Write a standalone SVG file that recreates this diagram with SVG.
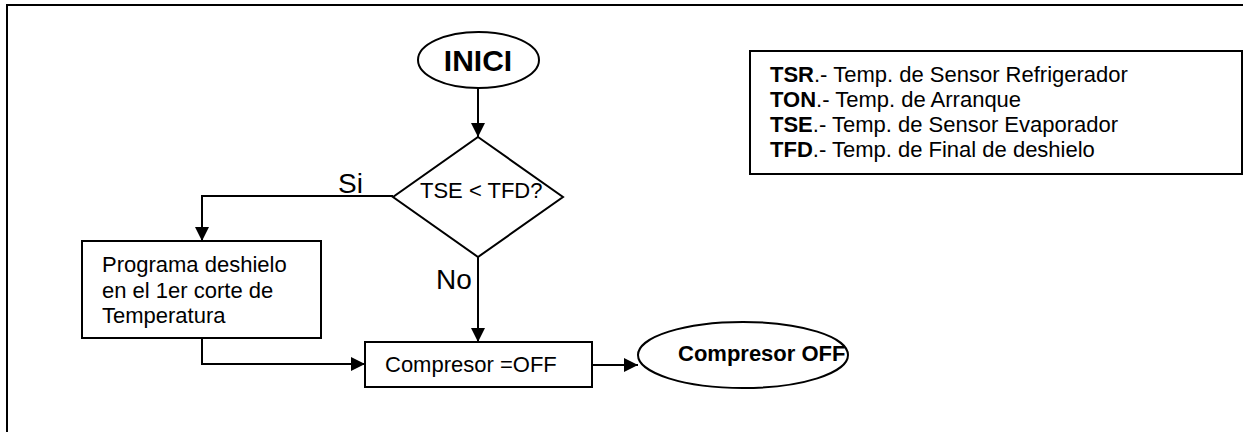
<svg xmlns="http://www.w3.org/2000/svg" width="1243" height="432" viewBox="0 0 1243 432">
  <style>
    .shape { fill: #ffffff; stroke: #000000; stroke-width: 2; }
    .line { fill: none; stroke: #000000; stroke-width: 2; }
    .txt { font-family: "Liberation Sans", Arial, sans-serif; font-size: 22px; fill: #000000; }
    .b { font-weight: bold; }
  </style>
  <defs>
    <marker id="arrow" markerUnits="userSpaceOnUse" markerWidth="16" markerHeight="14" refX="14" refY="7" orient="auto">
      <path d="M0,0 L14,7 L0,14 Z" fill="#000000"/>
    </marker>
  </defs>
  <rect x="0" y="0" width="1243" height="432" fill="#ffffff"/>
  <g id="frame">
    <path class="line" d="M7,432 L7,5 L1243,5"/>
  </g>
  <g id="connectors">
    <path class="line" d="M478,88 L478,137" marker-end="url(#arrow)"/>
    <path class="line" d="M393,196 L202,196 L202,241" marker-end="url(#arrow)"/>
    <path class="line" d="M478,257 L478,342" marker-end="url(#arrow)"/>
    <path class="line" d="M202,338 L202,364 L365,364" marker-end="url(#arrow)"/>
    <path class="line" d="M592,365 L638,365" marker-end="url(#arrow)"/>
    <text class="txt" x="338" y="193" style="font-size:28px">Si</text>
    <text class="txt" x="436" y="289" style="font-size:28px">No</text>
  </g>
  <g id="inici">
    <ellipse class="shape" cx="478.5" cy="60" rx="60.5" ry="28"/>
    <text class="txt b" x="478" y="71" text-anchor="middle" style="font-size:30px">INICI</text>
  </g>
  <g id="decision">
    <polygon class="shape" points="478,137 563,197 478,257 393,197"/>
    <text class="txt" x="420" y="198">TSE &lt; TFD?</text>
  </g>
  <g id="programa">
    <rect class="shape" x="82" y="241" width="239" height="97"/>
    <text class="txt" x="102" y="272">Programa deshielo</text>
    <text class="txt" x="102" y="298">en el 1er corte de</text>
    <text class="txt" x="102" y="323">Temperatura</text>
  </g>
  <g id="compresor">
    <rect class="shape" x="365" y="342" width="227" height="45"/>
    <text class="txt" x="385" y="372">Compresor =OFF</text>
  </g>
  <g id="compresor-off">
    <ellipse class="shape" cx="743" cy="355" rx="105" ry="33"/>
    <text class="txt b" x="678" y="361">Compresor OFF</text>
  </g>
  <g id="legend">
    <rect class="shape" x="750" y="51" width="492" height="123"/>
    <text class="txt" x="770" y="82"><tspan class="b">TSR</tspan>.- Temp. de Sensor Refrigerador</text>
    <text class="txt" x="770" y="107"><tspan class="b">TON</tspan>.- Temp. de Arranque</text>
    <text class="txt" x="770" y="132"><tspan class="b">TSE</tspan>.- Temp. de Sensor Evaporador</text>
    <text class="txt" x="770" y="157"><tspan class="b">TFD</tspan>.- Temp. de Final de deshielo</text>
  </g>
</svg>
